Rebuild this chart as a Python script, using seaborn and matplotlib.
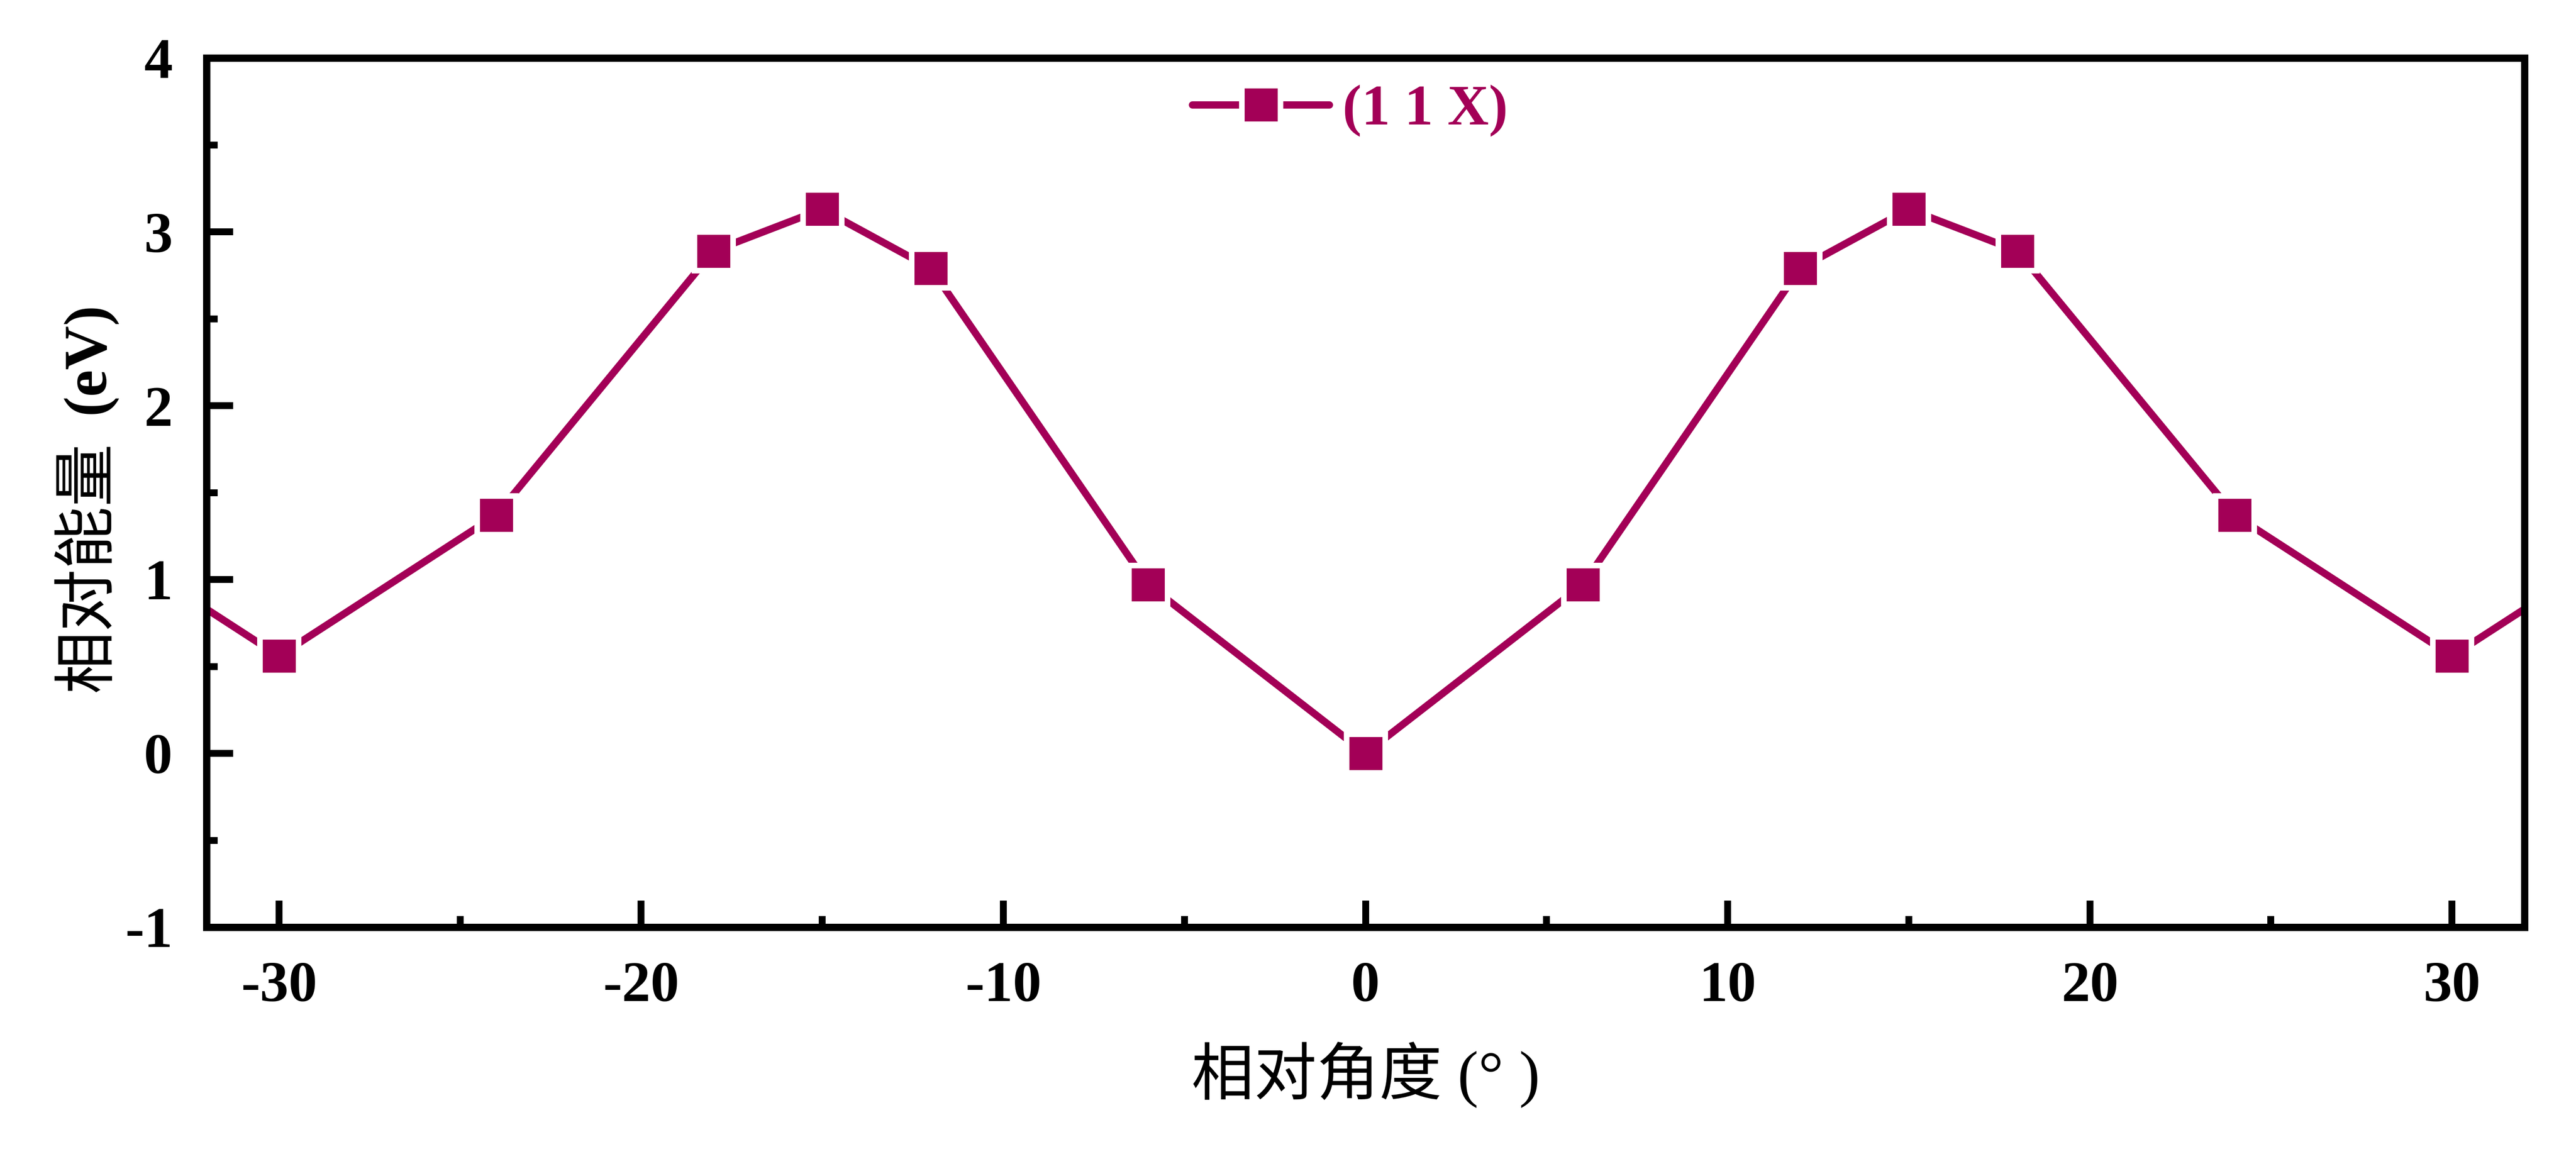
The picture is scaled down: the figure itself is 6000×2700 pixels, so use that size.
import numpy as np
import pandas as pd
import seaborn as sns
import matplotlib.pyplot as plt

# relative rotation angle (deg) and relative energy (eV); the +/-36 points sit outside the view
angles = [-36, -30, -24, -18, -15, -12, -6, 0, 6, 12, 15, 18, 24, 30, 36]
energies = [1.37, 0.56, 1.37, 2.89, 3.13, 2.79, 0.97, 0.0, 0.97, 2.79, 3.13, 2.89, 1.37, 0.56, 1.37]
series_label = "(1 1 X)"
x_ticks = [-30, -20, -10, 0, 10, 20, 30]
y_ticks = [-1, 0, 1, 2, 3, 4]

color = "#A30057"
DPI = 300
px = 72 / DPI  # one pixel in points

sns.set_style("ticks")
plt.rcParams["font.family"] = ["Liberation Serif", "Noto Sans CJK SC"]
plt.rcParams["axes.unicode_minus"] = False
for k in ["text.color", "axes.labelcolor", "xtick.color", "ytick.color", "axes.edgecolor"]:
    plt.rcParams[k] = "black"

df = pd.DataFrame({"angle": angles, "energy": energies})

fig = plt.figure(figsize=(20, 9), dpi=DPI)
ax = fig.add_axes([481 / 6000, 1 - 2160 / 2700, 5399 / 6000, 2025 / 2700])

# white marker edge gives the Origin-style gap between line and symbol
sns.lineplot(data=df, x="angle", y="energy", ax=ax, color=color, marker="s",
             markersize=90 * px, markeredgecolor="white", markeredgewidth=13 * px,
             linewidth=17 * px, label=series_label, sort=False)

ax.set_xlim(-32, 32)
ax.set_ylim(-1, 4)
ax.set_xticks(x_ticks)
ax.set_xticks(np.arange(-25, 30, 10), minor=True)
ax.set_yticks(y_ticks)
ax.set_yticks(np.arange(-0.5, 4, 1), minor=True)

for s in ax.spines.values():
    s.set_linewidth(17 * px)
    s.set_color("black")

ax.tick_params(which="both", direction="in", top=False, right=False,
               width=16 * px, color="black")
ax.tick_params(which="major", length=62 * px, pad=19, labelsize=32, labelcolor="black")
ax.tick_params(which="minor", length=26 * px)
for lab in ax.get_xticklabels() + ax.get_yticklabels():
    lab.set_fontweight("bold")

ax.set_xlabel("相对角度 (° )", fontsize=35, labelpad=16, color="black")
ax.set_ylabel("")

# y label: CJK regular + bold (eV)
fig.text(0.0340, 0.4030, "相对能量", rotation=90, ha="center", va="bottom",
         fontsize=35, color="black", family=["Noto Sans CJK SC", "DejaVu Sans"])
fig.text(0.0345, 0.6430, "(eV)", rotation=90, ha="center", va="bottom",
         fontsize=34, fontweight="bold", color="black",
         family=["Liberation Serif", "DejaVu Sans"])

leg = ax.legend(loc="center left", bbox_to_anchor=(0.4253, 0.9393), frameon=False,
                handlelength=2.39, handletextpad=0.23, borderpad=0, borderaxespad=0,
                prop={"family": "Liberation Serif", "weight": "bold", "size": 32},
                labelcolor=color)

fig.savefig("out.png", dpi=DPI, facecolor="white")
